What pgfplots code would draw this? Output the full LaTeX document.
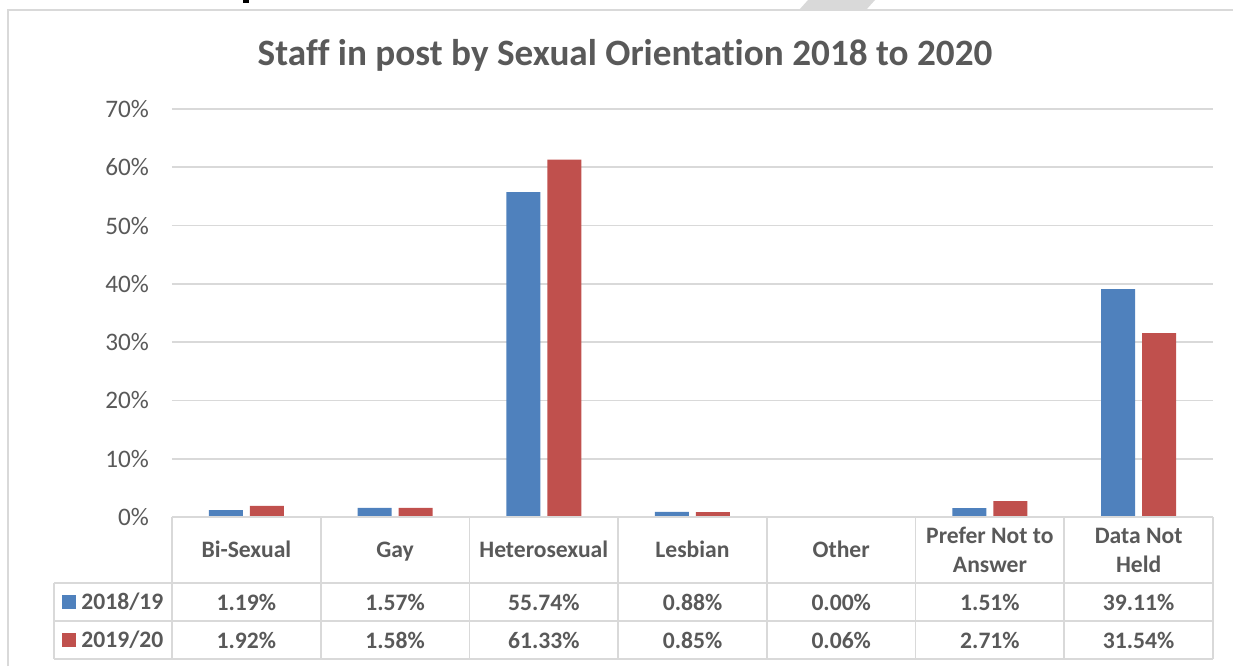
\documentclass[border=0pt]{standalone}
\usepackage{fontspec}
\setmainfont{Carlito}[Ligatures=NoCommon]
\usepackage{pgfplots}
\pgfplotsset{compat=1.18}
\definecolor{sblue}{HTML}{4F81BD}
\definecolor{sred}{HTML}{C0504D}
\definecolor{txt}{HTML}{595959}
\definecolor{grd}{HTML}{D9D9D9}

\begin{document}
\begin{tikzpicture}
% pixel frame: 1 px = 0.5pt, y downwards
\begin{scope}[x=0.5pt,y=-0.5pt]
\useasboundingbox (0,0) rectangle (1233,666);
\fill[grd] (808,0) -- (875,0) -- (866,10) -- (799,10) -- cycle;
\fill[black] (243,0) rectangle (249,2.5);
\draw[grd, line width=0.9pt] (8,666) -- (8,10) -- (1233,10);
\node[txt, font=\bfseries\fontsize{18.6}{22}\selectfont] at (625,55)
  {Staff in post by Sexual Orientation 2018 to 2020};
\end{scope}

\begin{axis}[
    at={(86pt,-258.5pt)}, anchor=south west,
    scale only axis,
    width=520.5pt, height=204pt,
    xmin=-0.5, xmax=6.5,
    ymin=0, ymax=70,
    xtick=\empty,
    ytick={0,10,20,30,40,50,60,70},
    yticklabels={0\%,10\%,20\%,30\%,40\%,50\%,60\%,70\%},
    yticklabel style={txt, font=\fontsize{12.6}{15}\selectfont, xshift=-8pt},
    major tick length=0pt,
    ymajorgrids,
    grid style={grd, line width=0.9pt},
    axis line style={draw=none},
    ybar=3.5pt, bar width=17pt,
]
\addplot[fill=sblue, draw=none] coordinates {
(0,1.19) (1,1.57) (2,55.74) (3,0.88) (4,0.00) (5,1.51) (6,39.11)};
\addplot[fill=sred, draw=none] coordinates {
(0,1.92) (1,1.58) (2,61.33) (3,0.85) (4,0.06) (5,2.71) (6,31.54)};
\end{axis}

% data table
\begin{scope}[x=0.5pt,y=-0.5pt]
\draw[grd, line width=0.9pt] (172,517) -- (1213,517);
\foreach \k in {0,...,7}
  \draw[grd, line width=0.9pt] ({172+\k*148.714},517) -- ({172+\k*148.714},659);
\draw[grd, line width=0.9pt] (54,583) -- (1213,583) (54,621) -- (1213,621)
  (54,659) -- (1213,659) (54,583) -- (54,659);
\tikzset{cell/.style={txt, font=\bfseries\fontsize{11.8}{14.5}\selectfont, align=center}}
\foreach \k/\t in {0/Bi-Sexual, 1/Gay, 2/Heterosexual, 3/Lesbian, 4/Other,
    5/{Prefer Not to\\Answer}, 6/{Data Not\\Held}}
  \node[cell] at ({172+(\k+0.5)*148.714},552) {\strut\t\strut};
\foreach \k/\t in {0/1.19\%, 1/1.57\%, 2/55.74\%, 3/0.88\%, 4/0.00\%, 5/1.51\%, 6/39.11\%}
  \node[cell] at ({172+(\k+0.5)*148.714},602) {\t};
\foreach \k/\t in {0/1.92\%, 1/1.58\%, 2/61.33\%, 3/0.85\%, 4/0.06\%, 5/2.71\%, 6/31.54\%}
  \node[cell] at ({172+(\k+0.5)*148.714},640) {\t};
\fill[sblue] (62,595) rectangle (76,609);
\fill[sred] (62,633) rectangle (76,647);
\node[cell, anchor=west, inner sep=0pt] at (81,602) {2018/19};
\node[cell, anchor=west, inner sep=0pt] at (81,640) {2019/20};
\end{scope}
\end{tikzpicture}
\end{document}
